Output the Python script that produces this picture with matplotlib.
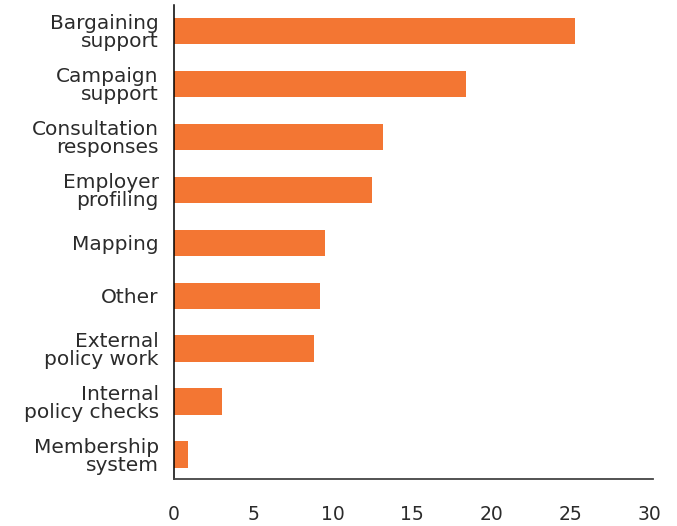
import matplotlib
matplotlib.use("Agg")
from matplotlib import pyplot as plt
import numpy as np

# Data
categories = [
    "Bargaining\nsupport",
    "Campaign\nsupport",
    "Consultation\nresponses",
    "Employer\nprofiling",
    "Mapping",
    "Other",
    "External\npolicy work",
    "Internal\npolicy checks",
    "Membership\nsystem",
]
values = [25.3, 18.4, 13.2, 12.5, 9.5, 9.2, 8.8, 3.0, 0.9]
xticks = [0, 5, 10, 15, 20, 25, 30]

bar_color = "#F37633"
text_color = "#2b2b2b"

fig = plt.figure(figsize=(6.77, 5.26), dpi=100)
ax = fig.add_axes([174 / 677, 47 / 526, 479 / 677, 474 / 526])

y = np.arange(len(categories))
ax.barh(y, values, height=0.5, color=bar_color)

ax.set_yticks(y)
ax.set_yticklabels(categories, fontsize=14.5, color=text_color, linespacing=0.95)
ax.set_xticks(xticks)
ax.set_xticklabels([str(t) for t in xticks], fontsize=13.5, color=text_color)

ax.set_xlim(0, 30.2)
ax.set_ylim(len(categories) - 1 + 0.46, -0.49)

ax.tick_params(axis="y", length=0, pad=11)
ax.tick_params(axis="x", length=0, pad=19)

for side in ["top", "right"]:
    ax.spines[side].set_visible(False)
ax.spines["left"].set_color("black")
ax.spines["left"].set_linewidth(1.1)
ax.spines["bottom"].set_color("#444444")
ax.spines["bottom"].set_linewidth(1.3)

plt.savefig("out.png", dpi=100)
